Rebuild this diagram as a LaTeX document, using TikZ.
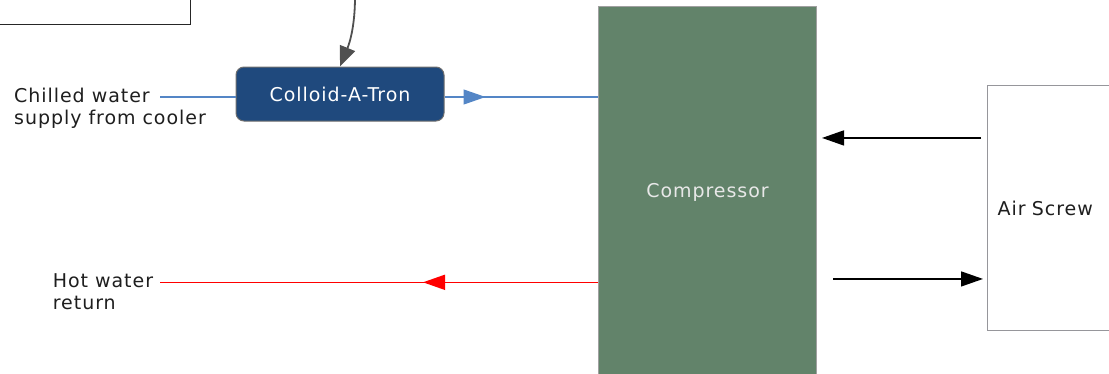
\documentclass[tikz,border=0pt]{standalone}
\usepackage{fontspec}
\setmainfont{DejaVu Sans}[LetterSpace=5]
\usetikzlibrary{arrows.meta,decorations.markings}
\definecolor{colfill}{RGB}{31,73,125}
\definecolor{colborder}{RGB}{110,110,110}
\definecolor{bluefl}{RGB}{84,134,198}
\definecolor{compfill}{RGB}{98,131,106}
\definecolor{compborder}{RGB}{160,160,160}
\definecolor{comptext}{RGB}{232,232,232}
\definecolor{airborder}{RGB}{150,150,155}
\definecolor{curvegray}{RGB}{80,80,80}
\definecolor{txtdark}{RGB}{30,30,30}
\begin{document}
\begin{tikzpicture}[x=1pt,y=-1pt,
  every node/.style={font=\fontsize{19}{22}\selectfont},
  lbl/.style={inner sep=0pt, align=left, text=txtdark},
  colloid/.style={draw=colborder, line width=1pt, fill=colfill, rounded corners=8pt,
    minimum width=208pt, minimum height=54pt, inner sep=0pt, text=white},
  compbox/.style={draw=compborder, line width=1pt, fill=compfill, minimum width=218pt,
    minimum height=420pt, inner sep=0pt, text=comptext, text height=0pt, text depth=37.4pt},
  airbox/.style={draw=airborder, line width=1.3pt, fill=white, minimum height=245pt,
    text width=150pt, inner xsep=10pt, inner ysep=0pt, align=left, text=txtdark},
  ctrlbox/.style={draw=black!85, line width=1pt, minimum width=240pt, minimum height=60pt, inner sep=0pt},
  blueflow/.style={draw=bluefl, line width=1.2pt},
  redflow/.style={draw=red, line width=1.6pt},
  blackflow/.style={draw=black, line width=1.5pt, -{Triangle[length=22pt,width=15pt]}},
  curveflow/.style={draw=curvegray, line width=1.8pt, -{Triangle[length=20pt,width=16pt]}}
]
\useasboundingbox (0,0) rectangle (1109,373);
\clip (0,0) rectangle (1109,373);

% partial box at top left
\node[ctrlbox, anchor=south east] (ctrl) at (191,25) {};

% compressor
\node[compbox, anchor=north] (comp) at (707.5,6) {Compressor};

% colloid-a-tron
\node[colloid] (col) at (340,94) {Colloid-A-Tron};

% air screw
\node[airbox, anchor=north west] (air) at (987,85) {Air Screw};

% labels (base anchor = baseline of last line)
\node[lbl, anchor=base west] (chilled) at (14,124.5) {Chilled water\\supply from cooler};
\node[lbl, anchor=base west] (hot) at (52.7,309.3) {Hot water\\return};

\coordinate (chilledEnd) at (160,97);
\coordinate (hotEnd) at (160,282.3);
\coordinate (curveSrc) at (355,-3);

% blue flow
\draw[blueflow] (chilledEnd) -- ([yshift=-3pt]col.west);
\draw[blueflow, postaction={decorate},
  decoration={markings, mark=at position 41pt with {\arrow[bluefl]{Triangle[length=22pt,width=15pt]}}}]
  ([yshift=-3pt]col.east) -- ([yshift=-3pt]col.east -| comp.west);

% red flow
\draw[redflow, postaction={decorate},
  decoration={markings, mark=at position 175pt with {\arrow[red]{Triangle[length=22pt,width=15pt]}}}]
  (comp.west |- hotEnd) -- (hotEnd);

% curve into colloid
\draw[curveflow] (curveSrc) .. controls (355,25) and (350,42) .. (col.north);

% air screw arrows
\draw[blackflow, shorten <=6pt, shorten >=5pt] ([yshift=70.2pt]air.west) -- ([yshift=70.2pt]air.west -| comp.east);
\draw[blackflow, shorten <=16pt, shorten >=4pt] ([yshift=-70.8pt]air.west -| comp.east) -- ([yshift=-70.8pt]air.west);
\end{tikzpicture}
\end{document}
